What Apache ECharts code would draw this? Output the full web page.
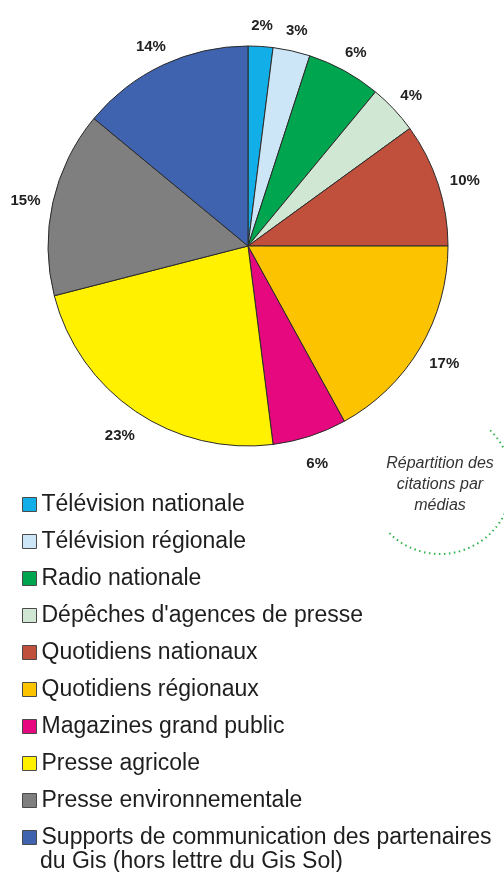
<!DOCTYPE html>
<html><head><meta charset="utf-8">
<script src="https://cdn.jsdelivr.net/npm/echarts@6/dist/echarts.min.js"></script>
<style>html,body{margin:0;padding:0;background:#fff}#c{width:504px;height:872px}</style>
</head><body><div id="c"></div>
<script>
const categories = [
  "Télévision nationale",
  "Télévision régionale",
  "Radio nationale",
  "Dépêches d'agences de presse",
  "Quotidiens nationaux",
  "Quotidiens régionaux",
  "Magazines grand public",
  "Presse agricole",
  "Presse environnementale",
  "Supports de communication des partenaires du Gis (hors lettre du Gis Sol)"
];
const values = [2, 3, 6, 4, 10, 17, 6, 23, 15, 14];
const colors = ["#12aee8","#cde6f7","#00a54f","#d0e7d3","#c0503b","#fcc300","#e5087e","#fff100","#7f7f7f","#3f63ae"];
const legendFirstLine = "Supports de communication des partenaires";
const legendSecondLine = "du Gis (hors lettre du Gis Sol)";
const noteText = "Répartition des\ncitations par\nmédias";

const cx = 248, cy = 246, R = 200;
const total = values.reduce((a, b) => a + b, 0);

const chart = echarts.init(document.getElementById('c'), null, {renderer: 'canvas'});
chart.setOption({
  animation: false,
  color: colors,
  legend: {
    orient: 'vertical',
    left: 17,
    top: 487,
    itemWidth: 14,
    itemHeight: 14,
    itemGap: 12,
    icon: 'rect',
    selectedMode: false,
    itemStyle: {borderColor: '#4a4a4a', borderWidth: 1},
    textStyle: {fontFamily: 'Liberation Sans, Arial, sans-serif', fontSize: 23, color: '#1e1e1e', lineHeight: 25},
    formatter: function (name) {
      return name === categories[categories.length - 1] ? legendFirstLine : name;
    },
    data: categories
  },
  graphic: [
    {type: 'text', left: 40, top: 850, style: {text: legendSecondLine, font: '23px "Liberation Sans", Arial, sans-serif', fill: '#1e1e1e'}},
    {type: 'text', x: 440, y: 453, style: {text: noteText, font: 'italic 16px "Liberation Sans", Arial, sans-serif', fill: '#333', align: 'center', lineHeight: 21}},
    {type: 'arc', shape: {cx: 440, cy: 482, r: 72, startAngle: -0.8, endAngle: 2.4, clockwise: true},
     style: {stroke: '#2fb34c', lineWidth: 2, lineDash: [1.5, 3.5], fill: null}}
  ],
  series: [{
    type: 'pie',
    center: [cx, cy],
    radius: R,
    startAngle: 90,
    clockwise: true,
    data: categories.map((n, i) => ({name: n, value: values[i]})),
    itemStyle: {borderColor: '#2a2a2a', borderWidth: 1},
    emphasis: {disabled: true},
    label: {
      show: true,
      position: 'outside',
      formatter: function (p) { return p.value + '%'; },
      fontFamily: 'Liberation Sans, Arial, sans-serif',
      fontWeight: 'bold',
      fontSize: 15,
      color: '#222'
    },
    labelLine: {show: false, length: 5, length2: 0},
    labelLayout: function (p) {
      let cum = 0;
      for (let i = 0; i < p.dataIndex; i++) cum += values[i];
      const a = (cum + values[p.dataIndex] / 2) / total * Math.PI * 2;
      const s = Math.sin(a), c = Math.cos(a);
      const ax = cx + (R + 10) * s, ay = cy - (R + 10) * c;
      return {
        x: ax + s * (p.labelRect.width / 2 + 3),
        y: ay - c * (p.labelRect.height / 2 + 3) + 4 * (1 - c),
        align: 'center',
        verticalAlign: 'middle'
      };
    }
  }]
});
</script></body></html>
